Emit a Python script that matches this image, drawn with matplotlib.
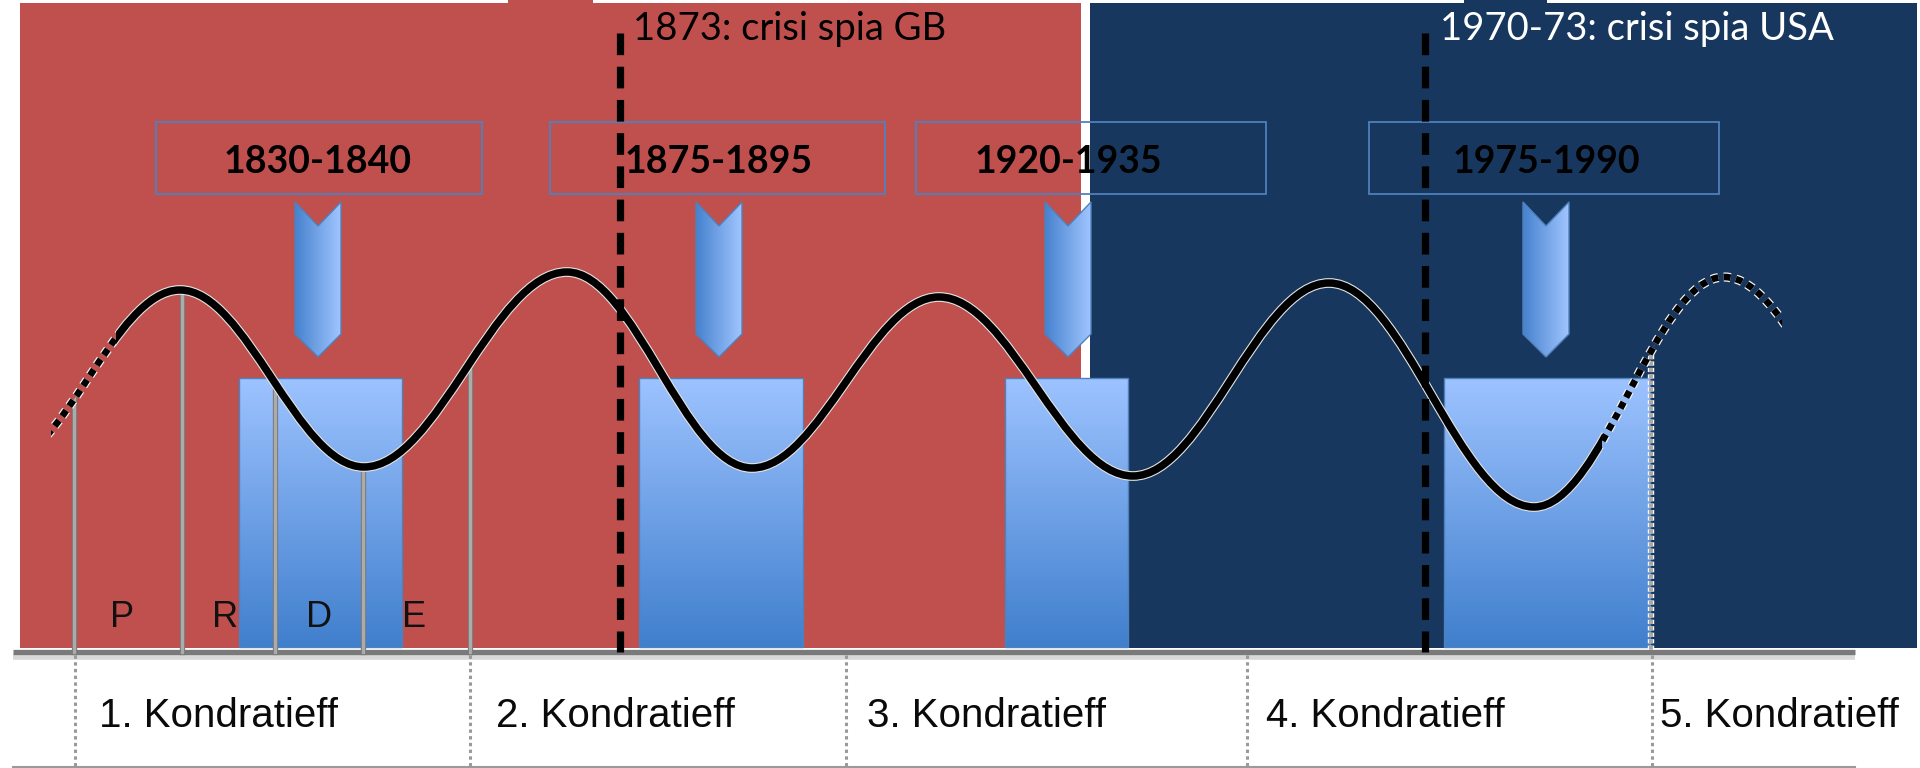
import numpy as np
import matplotlib
matplotlib.use("Agg")
import matplotlib.pyplot as plt
from matplotlib.path import Path
from matplotlib.patches import PathPatch, Rectangle, Polygon
import matplotlib.patheffects as pe

plt.rcParams['font.family'] = ['Lato', 'DejaVu Sans']

# ---------------- data (diagram units: x = 0..1920, y = 0..768 from top) ----------------
# hegemony periods (background panels)
era_colors = ['#C0504D', '#17375E']
era_left = [20, 1090]
era_right = [1081, 1917]
era_tab_left = [508, 1464]
era_tab_right = [593, 1547]

# long wave: extrema of the Kondratieff curve (first and last are off-picture troughs)
wave_x = [-4, 180, 364, 567, 752, 939, 1133, 1329, 1534, 1724, 1914]
wave_y = [467, 290, 467, 272, 468, 297, 476, 283, 507, 277, 480]
wave_start, wave_solid_start, wave_solid_end, wave_end = 51, 116, 1602, 1782

# depression periods
crisis_labels = ['1830-1840', '1875-1895', '1920-1935', '1975-1990']
crisis_center = [318, 719, 1068, 1546]
box_left = [156, 550, 916, 1369]
box_right = [482, 885, 1266, 1719]
bar_left = [239, 639, 1005, 1444]
bar_right = [402, 803, 1128, 1650]

# spy crises
spy_labels = ['1873: crisi spia GB', '1970-73: crisi spia USA']
spy_x = [620, 1425]
spy_text_x = [633, 1440]
spy_text_color = ['#000000', '#FFFFFF']

# Kondratieff cycles
kond_labels = ['1. Kondratieff', '2. Kondratieff', '3. Kondratieff',
               '4. Kondratieff', '5. Kondratieff']
kond_text_x = [99, 496, 867, 1266, 1660]
kond_bounds = [75, 470, 846, 1247, 1652]

# phases of the first cycle
phase_labels = ['P', 'R', 'D', 'E']
phase_label_x = [122, 225, 319, 414]
phase_lines = [74, 182, 275, 363, 470]

AXIS_Y = 652
BOTTOM_Y = 767

# ---------------- figure ----------------
fig = plt.figure(figsize=(19.2, 7.68), dpi=100)
ax = fig.add_axes([0, 0, 1, 1])
ax.set_xlim(0, 1920)
ax.set_ylim(768, 0)
ax.axis('off')

# background panels
for c, l, r, tl, tr in zip(era_colors, era_left, era_right, era_tab_left, era_tab_right):
    ax.add_patch(Rectangle((l, 3), r - l, 648 - 3, facecolor=c, edgecolor='none', zorder=1))
    ax.add_patch(Rectangle((tl, 0), tr - tl, 4, facecolor=c, edgecolor='none', zorder=1))

# axis lines
ax.plot([13, 1855], [AXIS_Y + 5, AXIS_Y + 5], color='#d8d8d8', lw=4, zorder=1.5, solid_capstyle='butt')
ax.plot([13, 1855], [AXIS_Y, AXIS_Y], color='#7a7a7a', lw=3.8, zorder=2, solid_capstyle='butt')
ax.plot([13, 1855], [BOTTOM_Y, BOTTOM_Y], color='#9a9a9a', lw=1.5, zorder=2)

# cycle boundaries (dotted) and labels
for xb in kond_bounds:
    ax.plot([xb, xb], [AXIS_Y + 3, 768], color='#9a9a9a', lw=2.2,
            linestyle=(0, (1.1, 1.1)), zorder=2)
for lab, xt in zip(kond_labels, kond_text_x):
    ax.text(xt, 727, lab, family=['Liberation Sans', 'DejaVu Sans'], fontsize=29,
            color='#0a0a0a', ha='left', va='baseline', zorder=3)

# boxes with year ranges
for l, r in zip(box_left, box_right):
    ax.add_patch(Rectangle((l, 122), r - l, 72, facecolor='none', edgecolor='#4F81BD',
                           lw=1.3, zorder=2))
for lab, cx in zip(crisis_labels, crisis_center):
    ax.text(cx, 173, lab, fontsize=27, fontweight='bold', color='black',
            ha='center', va='baseline', zorder=7)

# gradient bars
top_c = np.array([157, 195, 255]) / 255
bot_c = np.array([64, 127, 205]) / 255
tt = np.linspace(0, 1, 256)[:, None, None]
vgrad = top_c[None, None, :] * (1 - tt) + bot_c[None, None, :] * tt
for l, r in zip(bar_left, bar_right):
    ax.imshow(vgrad, extent=(l, r, 647, 378), origin='upper', aspect='auto',
              interpolation='bilinear', zorder=3)
    ax.add_patch(Rectangle((l, 378), r - l, 647 - 378, facecolor='none',
                           edgecolor='#4F81BD', lw=1.0, zorder=3.1))

# chevron arrows
left_c = np.array([70, 130, 206]) / 255
right_c = np.array([160, 197, 255]) / 255
ss = np.linspace(0, 1, 256)[None, :, None]
hgrad = left_c[None, None, :] * (1 - ss) + right_c[None, None, :] * ss
hw = 23
for cx in crisis_center:
    pts = [(cx - hw, 202), (cx, 226), (cx + hw, 202), (cx + hw, 334), (cx, 357), (cx - hw, 334)]
    poly = Polygon(pts, closed=True, facecolor='none', edgecolor='#4F81BD', lw=1.0, zorder=4.1)
    ax.add_patch(poly)
    im = ax.imshow(hgrad, extent=(cx - hw, cx + hw, 357, 202), origin='upper', aspect='auto',
                   interpolation='bilinear', zorder=4)
    clip = Polygon(pts, closed=True, transform=ax.transData)
    im.set_clip_path(clip)

# long wave curve as smooth bezier through extrema
k = 0.363
verts = [(wave_x[0], wave_y[0])]
codes = [Path.MOVETO]
for i in range(len(wave_x) - 1):
    d = wave_x[i + 1] - wave_x[i]
    verts += [(wave_x[i] + k * d, wave_y[i]), (wave_x[i + 1] - k * d, wave_y[i + 1]),
              (wave_x[i + 1], wave_y[i + 1])]
    codes += [Path.CURVE4] * 3
wave_path = Path(verts, codes)

# region below the curve (for clipping phase lines)
below = Path(verts + [(wave_x[-1], 700), (wave_x[0], 700), (wave_x[0], wave_y[0])],
             codes + [Path.LINETO, Path.LINETO, Path.CLOSEPOLY])
below_patch = PathPatch(below, transform=ax.transData)

for xp in phase_lines:
    ln, = ax.plot([xp, xp], [200, AXIS_Y], color='#ababab', lw=2.4, zorder=4.5,
                  path_effects=[pe.Stroke(linewidth=3.8, foreground='#777777'), pe.Normal()])
    ln.set_clip_path(below_patch)
ln, = ax.plot([1651, 1651], [200, AXIS_Y], color='#a9a9a9', lw=3.0, linestyle=(0, (1, 0.55)),
              zorder=4.5, solid_capstyle='butt', dash_capstyle='butt',
              path_effects=[pe.Stroke(linewidth=4.6, foreground='#ffffff'), pe.Normal()])
ln.set_clip_path(below_patch)

# solid part
solid = PathPatch(wave_path, facecolor='none', edgecolor='black', lw=5.4, zorder=5,
                  path_effects=[pe.Stroke(linewidth=7.0, foreground='#e4e4e4'), pe.Normal()])
ax.add_patch(solid)
solid.set_clip_path(Rectangle((wave_solid_start, 0), wave_solid_end - wave_solid_start, 768,
                              transform=ax.transData))
# dotted parts
for a, b in [(wave_start, wave_solid_start), (wave_solid_end, wave_end)]:
    dp = PathPatch(wave_path, facecolor='none', edgecolor='black', lw=4.8, zorder=5,
                   linestyle=(0, (1.05, 0.8)), capstyle='butt',
                   path_effects=[pe.Stroke(linewidth=6.6, foreground='#f2f2f2'), pe.Normal()])
    ax.add_patch(dp)
    dp.set_clip_path(Rectangle((a, 0), b - a, 768, transform=ax.transData))

# phase letters
for lab, xp in zip(phase_labels, phase_label_x):
    ax.text(xp, 627, lab, family=['Liberation Sans', 'DejaVu Sans'], fontsize=26,
            color='#111111', ha='center', va='baseline', zorder=6)

# spy crises
for xs, xt, lab, col in zip(spy_x, spy_text_x, spy_labels, spy_text_color):
    ax.plot([xs, xs], [33, AXIS_Y], color='black', lw=5.2, linestyle=(0, (3, 1.6)),
            dash_capstyle='butt', zorder=6)
    ax.text(xt, 40, lab, fontsize=27.5, color=col, ha='left', va='baseline', zorder=7)

fig.savefig('out.png', dpi=100)
